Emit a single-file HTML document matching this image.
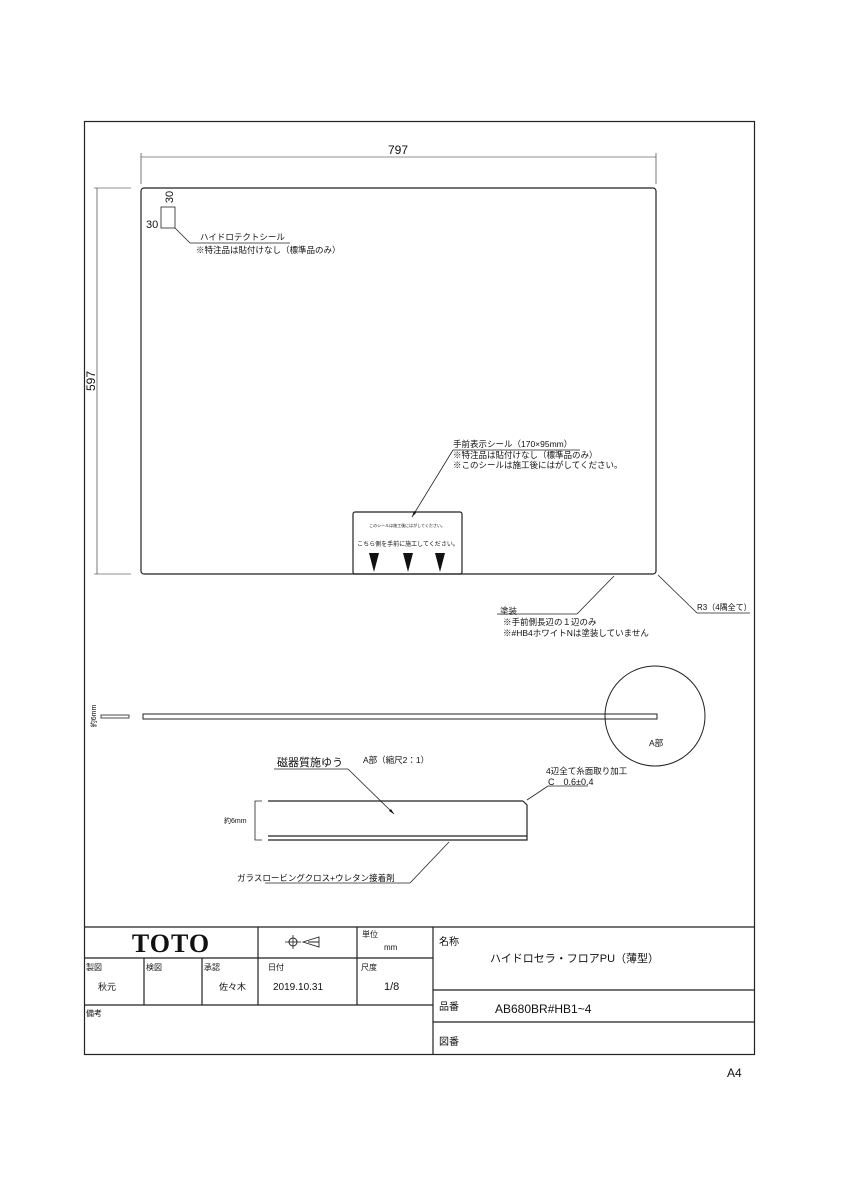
<!DOCTYPE html>
<html><head><meta charset="utf-8"><style>
html,body{margin:0;padding:0;background:#fff;}
svg{display:block;}
text{font-family:"Liberation Sans","Noto Sans CJK JP",sans-serif;fill:#111;}
</style></head><body>
<svg width="848" height="1200" viewBox="0 0 848 1200" xmlns="http://www.w3.org/2000/svg">
<g stroke="#222" fill="none" stroke-width="1.2">
<rect x="84.5" y="121.5" width="670" height="933"/>
<!-- dimension 797 -->
<line x1="141" y1="157" x2="656" y2="157" stroke-width="0.6"/>
<line x1="141" y1="153" x2="141" y2="184" stroke-width="0.6"/>
<line x1="656" y1="153" x2="656" y2="184" stroke-width="0.6"/>
<!-- dimension 597 -->
<line x1="97" y1="188" x2="97" y2="574" stroke-width="0.6"/>
<line x1="94" y1="188" x2="131" y2="188" stroke-width="0.6"/>
<line x1="94" y1="574" x2="131" y2="574" stroke-width="0.6"/>
<!-- plate -->
<rect x="141" y="188" width="515" height="386" rx="3"/>
<rect x="161" y="207" width="14" height="21" stroke-width="0.8"/>
<line x1="175" y1="228" x2="190" y2="243" stroke-width="0.8"/>
<line x1="190" y1="243" x2="290" y2="243" stroke-width="0.8"/>
<!-- sticker -->
<rect x="353" y="512" width="109" height="62" rx="2"/>
<line x1="412" y1="517" x2="453" y2="450" stroke-width="0.8"/>
<line x1="453" y1="450" x2="580" y2="450" stroke-width="0.8"/>
<!-- coating leader -->
<line x1="614" y1="576" x2="577" y2="614" stroke-width="0.8"/>
<line x1="577" y1="614" x2="497" y2="614" stroke-width="0.8"/>
<line x1="658" y1="575" x2="697" y2="613" stroke-width="0.8"/>
<line x1="697" y1="613" x2="750" y2="613" stroke-width="0.8"/>
<!-- side view -->
<rect x="143" y="714" width="514" height="5" stroke-width="1"/>
<rect x="101" y="715" width="28" height="3" stroke-width="0.8"/>
<circle cx="655" cy="716" r="50" stroke-width="1"/>
<!-- detail -->
<line x1="268" y1="801" x2="523" y2="801"/>
<path d="M523 801 L527 805 L527 840 L268 840"/>
<line x1="268" y1="836" x2="527" y2="836"/>
<path d="M262 801 L255 801 L255 840 L262 840" stroke-width="0.8"/>
<line x1="274" y1="769" x2="348" y2="769" stroke-width="0.8"/>
<line x1="348" y1="769" x2="394" y2="814" stroke-width="0.8"/>
<line x1="527" y1="800" x2="548" y2="786" stroke-width="0.8"/>
<line x1="548" y1="786" x2="588" y2="786" stroke-width="0.8"/>
<line x1="449" y1="842" x2="410" y2="883" stroke-width="0.8"/>
<line x1="410" y1="883" x2="265" y2="883" stroke-width="0.8"/>
<!-- title block -->
<line x1="84" y1="927" x2="754" y2="927"/>
<line x1="84" y1="958" x2="433" y2="958"/>
<line x1="84" y1="1005" x2="433" y2="1005"/>
<line x1="433" y1="990" x2="754" y2="990"/>
<line x1="433" y1="1022" x2="754" y2="1022"/>
<line x1="433" y1="927" x2="433" y2="1054"/>
<line x1="144" y1="958" x2="144" y2="1005"/>
<line x1="202" y1="958" x2="202" y2="1005"/>
<line x1="258" y1="927" x2="258" y2="1005"/>
<line x1="357" y1="927" x2="357" y2="1005"/>
<circle cx="293" cy="942" r="4" stroke-width="1"/>
<line x1="285" y1="942" x2="301" y2="942" stroke-width="0.8"/>
<line x1="293" y1="935" x2="293" y2="949" stroke-width="0.8"/>
<path d="M303 942 L319 937 L319 947 Z M308 942 L319 942" stroke-width="0.9"/>
</g>
<g fill="#111" stroke="none">
<path d="M369 553 L379 553 L374 572 Z"/>
<path d="M403 553 L413 553 L408 572 Z"/>
<path d="M435 553 L445 553 L440 572 Z"/>
<path d="M412 517 L414 511 L416 513 Z"/>
<path d="M394 814 L389 811 L391 809 Z"/>
</g>
<text x="398" y="154" font-size="12" text-anchor="middle">797</text>
<text transform="translate(95,381) rotate(-90)" font-size="12" text-anchor="middle">597</text>
<text transform="translate(173,197) rotate(-90)" font-size="11" text-anchor="middle">30</text>
<text x="146" y="228" font-size="11">30</text>
<text x="200" y="240" font-size="8.5">ハイドロテクトシール</text>
<text x="196" y="253" font-size="8.5">※特注品は貼付けなし（標準品のみ）</text>
<text x="453" y="447" font-size="8.5">手前表示シール（170×95mm）</text>
<text x="453" y="458" font-size="8.5">※特注品は貼付けなし（標準品のみ）</text>
<text x="453" y="468" font-size="8.5">※このシールは施工後にはがしてください。</text>
<text x="407" y="527" font-size="4" text-anchor="middle">このシールは施工後にはがしてください。</text>
<text x="408" y="546" font-size="6" text-anchor="middle">こちら側を手前に施工してください。</text>
<text x="500" y="614" font-size="8.5">塗装</text>
<text x="503" y="625" font-size="8.5">※手前側長辺の１辺のみ</text>
<text x="503" y="636" font-size="8.5">※#HB4ホワイトNは塗装していません</text>
<text x="697" y="610" font-size="8">R3（4隅全て）</text>
<text transform="translate(96,716) rotate(-90)" font-size="7" text-anchor="middle">約6mm</text>
<text x="649" y="746" font-size="8.5">A部</text>
<text x="277" y="766" font-size="11">磁器質施ゆう</text>
<text x="363" y="763" font-size="8.5">A部（縮尺2：1）</text>
<text x="546" y="774" font-size="8.5">4辺全て糸面取り加工</text>
<text x="548" y="785" font-size="9">C　0.6±0.4</text>
<text x="224" y="823" font-size="7">約6mm</text>
<text x="237" y="881" font-size="8.5">ガラスロービングクロス+ウレタン接着剤</text>
<text x="171" y="952" font-size="26" font-weight="bold" font-family="Liberation Serif,serif" text-anchor="middle" style="font-family:'Liberation Serif',serif;letter-spacing:1px">TOTO</text>
<text x="362" y="937" font-size="8">単位</text>
<text x="384" y="950" font-size="8">mm</text>
<text x="439" y="945" font-size="10">名称</text>
<text x="490" y="962" font-size="11">ハイドロセラ・フロアPU（薄型）</text>
<text x="86" y="970" font-size="8">製図</text>
<text x="146" y="970" font-size="8">検図</text>
<text x="204" y="970" font-size="8">承認</text>
<text x="268" y="970" font-size="8">日付</text>
<text x="361" y="970" font-size="8">尺度</text>
<text x="98" y="990" font-size="9">秋元</text>
<text x="219" y="990" font-size="9">佐々木</text>
<text x="273" y="990" font-size="10">2019.10.31</text>
<text x="384" y="990" font-size="11">1/8</text>
<text x="439" y="1010" font-size="10">品番</text>
<text x="495" y="1013" font-size="12">AB680BR#HB1~4</text>
<text x="86" y="1016" font-size="8">備考</text>
<text x="439" y="1045" font-size="10">図番</text>
<text x="727" y="1077" font-size="12">A4</text>
</svg>
</body></html>
